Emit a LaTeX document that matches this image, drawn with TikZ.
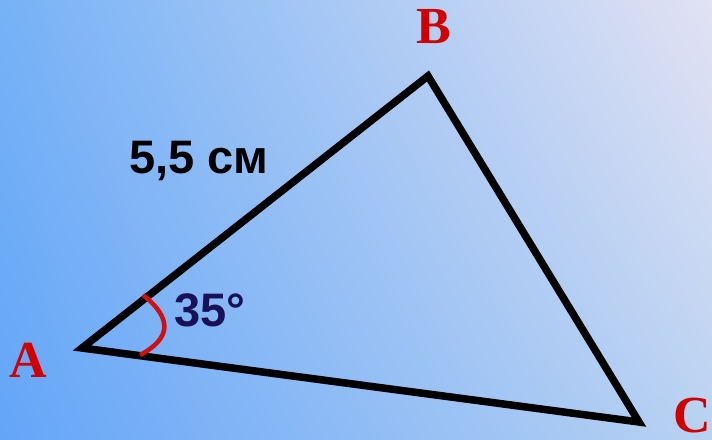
\documentclass[tikz,border=0pt]{standalone}
\usepackage{fontspec}
\setmainfont{Liberation Serif}
\newfontfamily\lsans{Liberation Sans}
\usetikzlibrary{shadings}
\definecolor{lblred}{HTML}{D00000}
\definecolor{angred}{HTML}{D01010}
\definecolor{navy}{HTML}{1A1055}
\definecolor{bgBL}{RGB}{100,165,248}
\definecolor{bgTL}{RGB}{118,178,246}
\definecolor{bgBR}{RGB}{185,210,242}
\definecolor{bgTR}{RGB}{226,226,243}
\begin{document}
\begin{tikzpicture}[x=1pt,y=-1pt,
  vlabel/.style={text=lblred,font=\fontsize{52}{52}\selectfont\bfseries,inner sep=0pt},
  side/.style={line width=7.5pt,line join=miter,line cap=butt},
  sanslbl/.style={font=\lsans\fontsize{47}{47}\selectfont\bfseries,inner sep=0pt}]
\useasboundingbox (0,0) rectangle (712,439);
\shade[lower left=bgBL,upper left=bgTL,lower right=bgBR,upper right=bgTR] (0,0) rectangle (712,439);
\coordinate (A) at (82,348);
\coordinate (B) at (428,76);
\coordinate (C) at (639,422);
\draw[side] (A) -- (B) -- (C) -- cycle;
\coordinate (a1) at (143,295);
\coordinate (a2) at (140,355);
\draw[angred,line width=4.5pt] (a1) .. controls (172,318) and (172,338) .. (a2);
\node[vlabel] (la) at (28,360) {A};
\node[vlabel] (lb) at (434,27) {B};
\node[vlabel,anchor=north west] (lc) at (673,398) {C};
\node[sanslbl] (ls) at (199,161) {5,5 см};
\node[sanslbl,text=navy] (lang) at (210,310) {35°};
\end{tikzpicture}
\end{document}
